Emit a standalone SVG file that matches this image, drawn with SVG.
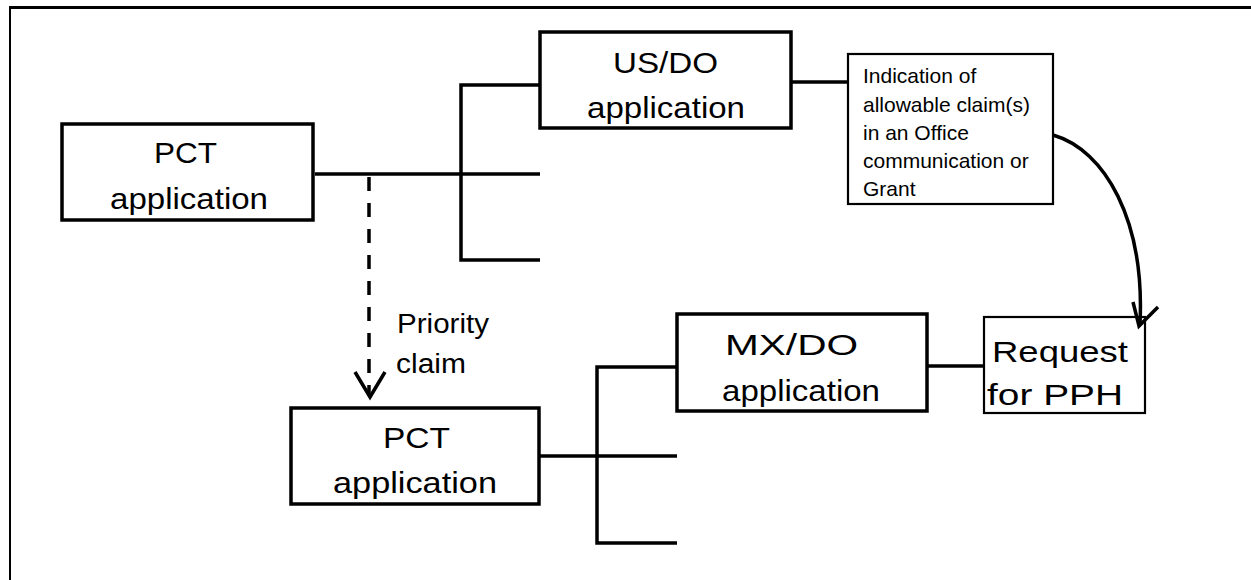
<svg xmlns="http://www.w3.org/2000/svg" width="1251" height="580" viewBox="0 0 1251 580">
<style>
  .box { fill: #fff; stroke: #000; stroke-width: 3.5; }
  .thin { fill: #fff; stroke: #000; stroke-width: 2.2; }
  .ln { fill: none; stroke: #000; stroke-width: 3.5; }
  .big { font-family: "Liberation Sans", Arial, sans-serif; font-size: 30px; fill: #000; }
  .mid { font-family: "Liberation Sans", Arial, sans-serif; font-size: 27px; fill: #000; }
  .small { font-family: "Liberation Sans", Arial, sans-serif; font-size: 21px; fill: #000; }
</style>
<rect width="1251" height="580" fill="#fff"/>
<g id="frame">
  <line x1="9" y1="7.5" x2="1251" y2="7.5" stroke="#000" stroke-width="3"/>
  <line x1="10" y1="7" x2="10" y2="580" stroke="#000" stroke-width="2"/>
</g>
<g id="pct1">
  <rect class="box" x="62" y="124" width="251" height="96"/>
  <text class="big" x="154" y="163" textLength="63" lengthAdjust="spacingAndGlyphs">PCT</text>
  <text class="big" x="110" y="209" textLength="158" lengthAdjust="spacingAndGlyphs">application</text>
</g>
<g id="usdo">
  <rect class="box" x="540" y="32" width="251" height="96"/>
  <text class="big" x="613" y="73" textLength="105" lengthAdjust="spacingAndGlyphs">US/DO</text>
  <text class="big" x="587" y="118" textLength="158" lengthAdjust="spacingAndGlyphs">application</text>
</g>
<g id="indication">
  <rect class="thin" x="848" y="54" width="205" height="150"/>
  <text class="small" x="863" y="83">Indication of</text>
  <text class="small" x="863" y="112">allowable claim(s)</text>
  <text class="small" x="863" y="140">in an Office</text>
  <text class="small" x="863" y="168">communication or</text>
  <text class="small" x="863" y="196">Grant</text>
</g>
<g id="priority-label">
  <text class="mid" x="397" y="333" textLength="92" lengthAdjust="spacingAndGlyphs">Priority</text>
  <text class="mid" x="396" y="373" textLength="70" lengthAdjust="spacingAndGlyphs">claim</text>
</g>
<g id="pct2">
  <rect class="box" x="291" y="408" width="248" height="96"/>
  <text class="big" x="383" y="448" textLength="67" lengthAdjust="spacingAndGlyphs">PCT</text>
  <text class="big" x="333" y="493" textLength="164" lengthAdjust="spacingAndGlyphs">application</text>
</g>
<g id="mxdo">
  <rect class="box" x="677" y="314" width="250" height="97"/>
  <text class="big" x="725" y="355" textLength="133" lengthAdjust="spacingAndGlyphs">MX/DO</text>
  <text class="big" x="722" y="401" textLength="158" lengthAdjust="spacingAndGlyphs">application</text>
</g>
<g id="request">
  <rect class="thin" x="984" y="317" width="161" height="96"/>
  <text class="big" x="992" y="362" textLength="136" lengthAdjust="spacingAndGlyphs">Request</text>
  <text class="big" x="987" y="405" textLength="136" lengthAdjust="spacingAndGlyphs">for PPH</text>
</g>
<g id="connectors">
  <polyline class="ln" points="315,174 540,174"/>
  <polyline class="ln" points="540,85 461,85 461,260 540,260"/>
  <line class="ln" x1="792" y1="82" x2="848" y2="82"/>
  <line class="ln" x1="369" y1="177" x2="369" y2="396" stroke-dasharray="14,12"/>
  <polyline class="ln" points="355,372 370,397 385,372" stroke-width="3"/>
  <line class="ln" x1="540" y1="456" x2="677" y2="456"/>
  <polyline class="ln" points="677,367 597,367 597,543 677,543"/>
  <line class="ln" x1="928" y1="366" x2="984" y2="366"/>
  <path class="ln" d="M1053,135 C1105,150 1145,220 1140,324" stroke-width="4.5"/>
  <polyline class="ln" points="1133,302 1139,326 1158,307" stroke-width="4"/>
</g>
</svg>
